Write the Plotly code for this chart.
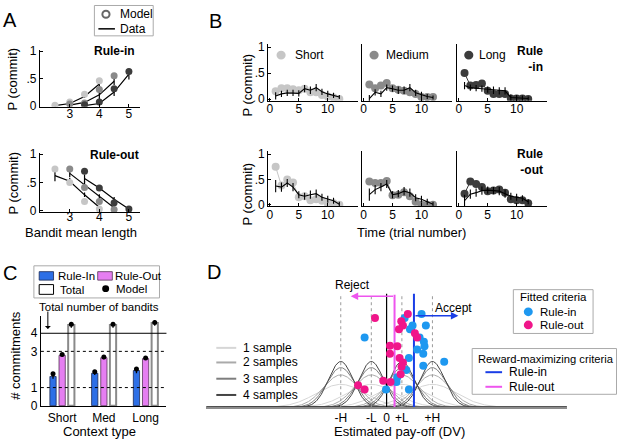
import numpy as np
import plotly.graph_objects as go

W, H = 617, 448
FONT = "Liberation Sans, Arial, Helvetica, sans-serif"

# ------------------------------------------------------------------ data
# Panel A : P(commit) vs bandit mean length (short / medium / long contexts)
A_X_SHORT = [2.5, 3.0, 3.5, 4.0]
A_X_MEDIUM = [3.0, 3.5, 4.0, 4.5]
A_X_LONG = [3.5, 4.0, 4.5, 5.0]
A_TICKS = [3, 4, 5]

A_IN_MODEL_SHORT = [0.01, 0.07, 0.21, 0.46]
A_IN_MODEL_MEDIUM = [0.03, 0.05, 0.30, 0.55]
A_IN_MODEL_LONG = [0.02, 0.07, 0.31, 0.63]
A_IN_DATA_SHORT = [0.00, 0.04, 0.17, 0.40]
A_IN_DATA_MEDIUM = [0.01, 0.06, 0.20, 0.45]
A_IN_DATA_LONG = [0.00, 0.04, 0.25, 0.58]
A_IN_ERR_SHORT = [0.01, 0.02, 0.03, 0.08]
A_IN_ERR_MEDIUM = [0.01, 0.02, 0.14, 0.07]
A_IN_ERR_LONG = [0.01, 0.03, 0.07, 0.10]

A_OUT_MODEL_SHORT = [0.74, 0.50, 0.16, 0.03]
A_OUT_MODEL_MEDIUM = [0.74, 0.41, 0.16, 0.02]
A_OUT_MODEL_LONG = [0.70, 0.40, 0.14, 0.03]
A_OUT_DATA_SHORT = [0.62, 0.52, 0.28, 0.06]
A_OUT_DATA_MEDIUM = [0.66, 0.46, 0.25, 0.05]
A_OUT_DATA_LONG = [0.57, 0.40, 0.20, 0.03]
A_OUT_ERR_SHORT = [0.10, 0.06, 0.04, 0.02]
A_OUT_ERR_MEDIUM = [0.07, 0.06, 0.04, 0.02]
A_OUT_ERR_LONG = [0.07, 0.05, 0.04, 0.02]

# Panel B : P(commit) vs time (trial number)
B_TRIALS = [1, 2, 3, 4, 5, 6, 7, 8, 9, 10, 11, 12]
B_TICKS = [0, 5, 10]
B_IN_MODEL_SHORT = [0.15, 0.21, 0.21, 0.19, 0.17, 0.20, 0.13, 0.13, 0.08, 0.05, 0.03, 0.00]
B_IN_MODEL_MEDIUM = [0.28, 0.21, 0.26, 0.31, 0.21, 0.18, 0.16, 0.13, 0.10, 0.04, 0.04, 0.04]
B_IN_MODEL_LONG = [0.50, 0.26, 0.27, 0.30, 0.16, 0.10, 0.10, 0.10, 0.01, 0.01, 0.01, 0.00]
B_IN_DATA_SHORT = [0.06, 0.10, 0.12, 0.12, 0.11, 0.20, 0.17, 0.22, 0.14, 0.10, 0.07, 0.04]
B_IN_DATA_MEDIUM = [0.01, 0.13, 0.10, 0.22, 0.20, 0.17, 0.17, 0.22, 0.12, 0.08, 0.05, 0.03]
B_IN_DATA_LONG = [0.26, 0.22, 0.21, 0.20, 0.18, 0.17, 0.16, 0.16, 0.03, 0.02, 0.02, 0.01]
B_IN_ERR = [0.07, 0.06, 0.06, 0.06, 0.06, 0.07, 0.07, 0.07, 0.06, 0.06, 0.05, 0.04]

B_OUT_MODEL_SHORT = [0.75, 0.38, 0.50, 0.44, 0.15, 0.17, 0.09, 0.11, 0.08, 0.03, 0.03, 0.00]
B_OUT_MODEL_MEDIUM = [0.46, 0.43, 0.43, 0.47, 0.19, 0.20, 0.25, 0.17, 0.06, 0.00, 0.00, 0.00]
B_OUT_MODEL_LONG = [0.22, 0.46, 0.41, 0.35, 0.27, 0.28, 0.30, 0.24, 0.11, 0.09, 0.09, 0.03]
B_OUT_DATA_SHORT = [0.37, 0.35, 0.43, 0.35, 0.20, 0.17, 0.20, 0.22, 0.15, 0.11, 0.08, 0.01]
B_OUT_DATA_MEDIUM = [0.20, 0.30, 0.35, 0.41, 0.20, 0.22, 0.27, 0.24, 0.14, 0.11, 0.06, 0.01]
B_OUT_DATA_LONG = [0.08, 0.21, 0.24, 0.28, 0.29, 0.28, 0.27, 0.22, 0.17, 0.15, 0.13, 0.06]
B_OUT_ERR = [0.12, 0.09, 0.08, 0.08, 0.07, 0.07, 0.08, 0.08, 0.07, 0.07, 0.06, 0.05]

LENGTH_NAMES = ["Short", "Medium", "Long"]

# Panel C : number of commitments per context
C_CATEGORIES = ["Short", "Med", "Long"]
C_RULE_IN = [1.61, 1.79, 1.94]
C_RULE_OUT = [2.78, 2.65, 2.60]
C_TOTAL = [4.45, 4.45, 4.57]
C_RULE_IN_ERR = [0.12, 0.10, 0.15]
C_RULE_OUT_ERR = [0.08, 0.08, 0.08]
C_TOTAL_ERR = [0.14, 0.14, 0.16]
C_MODEL_IN = [1.76, 1.88, 2.03]
C_MODEL_OUT = [2.83, 2.69, 2.63]
C_MODEL_TOTAL = [4.50, 4.50, 4.60]
C_REF_SOLID = [4]
C_REF_DASHED = [3, 1]
C_YTICKS = [0, 1, 3, 4]

# Panel D : estimated pay-off schematic (H = 3, L = 1 units)
D_CENTERS = [-3, -1, 1, 3]
D_TICKVALS = [-3, -1, 0, 1, 3]
D_TICKTEXT = ["-H", "-L", "0", "+L", "+H"]
D_N_SAMPLES = [1, 2, 3, 4]
D_SAMPLE_SD1 = 1.6
D_PEAK_4 = 47.0
D_GUIDE_TOP = 115.5
D_CRIT_IN = 1.79
D_CRIT_OUT = 0.52
D_IN_X = [2.29, 1.18, 1.70, 2.57, 1.53, -1.44, 2.16, 2.44, 2.48, 2.00, 2.40, 1.46,
          3.77, 2.40, 1.29, 0.70, 0.65, 1.46, -0.04]
D_IN_Y = [95.7, 91.7, 84.0, 84.0, 80.0, 71.7, 71.7, 67.3, 62.7, 59.3, 55.0, 50.7,
          46.7, 42.7, 38.3, 30.7, 26.0, 18.3, 18.3]
D_OUT_X = [-0.76, 1.39, 0.96, 1.07, 0.81, 1.85, 2.00, 0.22, 0.70, 0.22, 0.85, 1.07,
           0.98, 0.92, -0.22, 0.26, -1.87, -1.44]
D_OUT_Y = [91.7, 95.7, 88.3, 84.0, 80.0, 76.0, 71.7, 63.3, 62.7, 55.0, 50.7, 46.0,
           41.7, 34.0, 27.3, 26.0, 22.7, 18.3]

# ------------------------------------------------------------------ style
GREYS = ["#c6c6c6", "#8a8a8a", "#3c3c3c"]
SAMPLE_GREYS = ["#d6d6d6", "#aaaaaa", "#7e7e7e", "#444444"]
BLUE_BAR = "#2d6fe6"
MAG_BAR = "#e57ef1"
BLUE_PT = "#1e98f0"
MAG_PT = "#f0168a"
BLUE_LINE = "#1a3ee6"
MAG_LINE = "#ee55ee"


def PX(x):
    return x / W


def PY(y):
    return 1 - y / H


def xdom(a, b):
    return [a / W, b / W]


def ydom(top, bot):
    return [1 - bot / H, 1 - top / H]


fig = go.Figure()
layout_axes = {}
BASE = dict(showline=True, linecolor="black", linewidth=1, showgrid=False, zeroline=False,
            ticks="inside", ticklen=3, tickcolor="black", mirror=False, fixedrange=True,
            tickfont=dict(size=12, family=FONT, color="black"))


def add_axes(i, xd, yd, xr, yr, xkw=None, ykw=None):
    s = "" if i == 1 else str(i)
    xa = dict(BASE)
    xa.update(domain=xd, range=xr, anchor="y" + s)
    xa.update(xkw or {})
    ya = dict(BASE)
    ya.update(domain=yd, range=yr, anchor="x" + s)
    ya.update(ykw or {})
    layout_axes["xaxis" + s] = xa
    layout_axes["yaxis" + s] = ya
    return "x" + s, "y" + s


P_TICKS = dict(tickvals=[0, 0.5, 1], ticktext=["0", ".5", "1"])

# ---------------- Panel A
axA = [
    add_axes(1, xdom(38, 138), ydom(46, 104.5), [1.99, 5.36], [-0.018, 1.027],
             dict(tickvals=A_TICKS, ticklabelstandoff=-4), P_TICKS),
    add_axes(2, xdom(38, 138), ydom(152, 213), [1.99, 5.36], [-0.03, 1.023],
             dict(tickvals=A_TICKS, ticklabelstandoff=-7), P_TICKS),
]
A_XS = [A_X_SHORT, A_X_MEDIUM, A_X_LONG]
A_SETS = [
    ([A_IN_MODEL_SHORT, A_IN_MODEL_MEDIUM, A_IN_MODEL_LONG],
     [A_IN_DATA_SHORT, A_IN_DATA_MEDIUM, A_IN_DATA_LONG],
     [A_IN_ERR_SHORT, A_IN_ERR_MEDIUM, A_IN_ERR_LONG]),
    ([A_OUT_MODEL_SHORT, A_OUT_MODEL_MEDIUM, A_OUT_MODEL_LONG],
     [A_OUT_DATA_SHORT, A_OUT_DATA_MEDIUM, A_OUT_DATA_LONG],
     [A_OUT_ERR_SHORT, A_OUT_ERR_MEDIUM, A_OUT_ERR_LONG]),
]
for (xa, ya), (models, datas, errs) in zip(axA, A_SETS):
    for k in range(3):
        fig.add_trace(go.Scatter(x=A_XS[k], y=datas[k], mode="lines", xaxis=xa, yaxis=ya,
                                 line=dict(color="black", width=1.2),
                                 error_y=dict(type="data", array=errs[k], color="black",
                                              thickness=1.2, width=0)))
    for k in range(3):
        fig.add_trace(go.Scatter(x=A_XS[k], y=models[k], mode="markers", xaxis=xa, yaxis=ya,
                                 marker=dict(color=GREYS[k], size=7)))

# ---------------- Panel B
B_XD = [xdom(267, 357), xdom(361, 451), xdom(456.5, 546.5)]
B_ROWS = [
    (ydom(40.5, 98.5), [-0.034, 1.052],
     [B_IN_MODEL_SHORT, B_IN_MODEL_MEDIUM, B_IN_MODEL_LONG],
     [B_IN_DATA_SHORT, B_IN_DATA_MEDIUM, B_IN_DATA_LONG], B_IN_ERR),
    (ydom(150.5, 207), [-0.033, 1.054],
     [B_OUT_MODEL_SHORT, B_OUT_MODEL_MEDIUM, B_OUT_MODEL_LONG],
     [B_OUT_DATA_SHORT, B_OUT_DATA_MEDIUM, B_OUT_DATA_LONG], B_OUT_ERR),
]
idx = 3
for r, (yd, yr, models, datas, err) in enumerate(B_ROWS):
    for c in range(3):
        ykw = dict(P_TICKS) if c == 0 else dict(showticklabels=False, ticks="")
        xa, ya = add_axes(idx, B_XD[c], yd, [-0.3, 15.2], yr,
                          dict(tickvals=B_TICKS, ticklabelstandoff=-3), ykw)
        idx += 1
        fig.add_trace(go.Scatter(x=B_TRIALS, y=models[c], mode="lines+markers", xaxis=xa, yaxis=ya,
                                 line=dict(color=GREYS[c], width=1),
                                 marker=dict(color=GREYS[c], size=8)))
        fig.add_trace(go.Scatter(x=B_TRIALS, y=datas[c], mode="lines", xaxis=xa, yaxis=ya,
                                 line=dict(color="black", width=1.1),
                                 error_y=dict(type="data", array=err, color="black",
                                              thickness=1.1, width=0)))

# ---------------- Panel C
xc, yc = add_axes(9, xdom(39, 165), ydom(320, 412), [-0.51, 2.5], [-0.016, 4.93],
                  dict(tickvals=list(range(len(C_CATEGORIES))), ticktext=C_CATEGORIES, ticks="",
                       ticklabelstandoff=1),
                  dict(tickvals=C_YTICKS, ticks=""))
C_POS = list(range(len(C_CATEGORIES)))
BAR_STEP = 0.219
BAR_W = 0.15
for j, (vals, errs, fill, lcol, lw) in enumerate([
        (C_RULE_IN, C_RULE_IN_ERR, BLUE_BAR, "#1b2a55", 0.8),
        (C_RULE_OUT, C_RULE_OUT_ERR, MAG_BAR, "#553355", 0.8),
        (C_TOTAL, C_TOTAL_ERR, "white", "#8a8a8a", 2.0)]):
    shift = (j - 1) * BAR_STEP
    fig.add_trace(go.Bar(x=C_POS, y=vals, xaxis=xc, yaxis=yc, width=BAR_W,
                         offset=shift - BAR_W / 2,
                         marker=dict(color=fill, line=dict(color=lcol, width=lw)),
                         error_y=dict(type="data", array=errs, color="black",
                                      thickness=1.3, width=0)))
for j, mvals in enumerate([C_MODEL_IN, C_MODEL_OUT, C_MODEL_TOTAL]):
    shift = (j - 1) * BAR_STEP
    fig.add_trace(go.Scatter(x=[p + shift for p in C_POS], y=mvals, mode="markers",
                             xaxis=xc, yaxis=yc, marker=dict(color="black", size=5)))

# ---------------- Panel D
xdd, ydd = add_axes(10, xdom(205, 566.7), ydom(280, 413.3), [-11.8, 11.8], [0, 133.3],
                    dict(tickvals=D_TICKVALS, ticktext=D_TICKTEXT, ticks="", linecolor="#8c8c8c",
                         linewidth=2, ticklabelstandoff=-2,
                         tickfont=dict(size=12, family=FONT, color="black")),
                    dict(visible=False))
xs = np.linspace(-11.8, 11.8, 700)
for n, col in zip(D_N_SAMPLES, SAMPLE_GREYS):
    sd = D_SAMPLE_SD1 / np.sqrt(n)
    peak = D_PEAK_4 * np.sqrt(n / 4.0)
    for c in D_CENTERS:
        fig.add_trace(go.Scatter(x=xs, y=peak * np.exp(-(xs - c) ** 2 / (2 * sd ** 2)),
                                 mode="lines", xaxis=xdd, yaxis=ydd,
                                 line=dict(color=col, width=1)))
for c in D_CENTERS:
    fig.add_trace(go.Scatter(x=[c, c], y=[0, D_GUIDE_TOP], mode="lines", xaxis=xdd, yaxis=ydd,
                             line=dict(color="#9a9a9a", width=1, dash="3px,3px")))
fig.add_trace(go.Scatter(x=[0, 0], y=[0, D_GUIDE_TOP + 1], mode="lines", xaxis=xdd, yaxis=ydd,
                         line=dict(color="black", width=1.2)))
fig.add_trace(go.Scatter(x=[D_CRIT_OUT, D_CRIT_OUT], y=[0, D_GUIDE_TOP], mode="lines",
                         xaxis=xdd, yaxis=ydd, line=dict(color=MAG_LINE, width=2)))
fig.add_trace(go.Scatter(x=[D_CRIT_IN, D_CRIT_IN], y=[0, D_GUIDE_TOP + 1], mode="lines",
                         xaxis=xdd, yaxis=ydd, line=dict(color=BLUE_LINE, width=2)))
fig.add_trace(go.Scatter(x=D_IN_X, y=D_IN_Y, mode="markers", xaxis=xdd, yaxis=ydd,
                         marker=dict(color=BLUE_PT, size=8)))
fig.add_trace(go.Scatter(x=D_OUT_X, y=D_OUT_Y, mode="markers", xaxis=xdd, yaxis=ydd,
                         marker=dict(color=MAG_PT, size=8)))

# ------------------------------------------------------------------ annotations
ann = []


def txt(x, y, s, size=12, xanchor="center", bold=False, angle=0, align="left", yanchor="middle"):
    ann.append(dict(x=PX(x), y=PY(y), xref="paper", yref="paper", text=("<b>%s</b>" % s) if bold else s,
                    showarrow=False, xanchor=xanchor, yanchor=yanchor, textangle=angle, align=align,
                    font=dict(size=size, family=FONT, color="black")))


for letter, (lx, ly) in zip("ABCD", [(8.5, 15), (214, 16), (8.5, 275), (212.5, 274)]):
    txt(lx, ly, letter, size=20)

# A
txt(113, 47, "Rule-in", bold=True)
txt(113, 154, "Rule-out", bold=True)
txt(11.5, 76, "P (commit)", size=13, angle=-90)
txt(11.5, 183, "P (commit)", size=13, angle=-90)
txt(79, 234, "Bandit mean length", size=13)
txt(116.5, 9.5, "Model", xanchor="left")
txt(116.5, 24.5, "Data", xanchor="left")
# B
txt(246.5, 82, "P (commit)", size=13, angle=-90)
txt(246.5, 194, "P (commit)", size=13, angle=-90)
txt(410.5, 234, "Time (trial number)", size=13)
txt(545, 55, "Rule<br>-in", bold=True, xanchor="right", align="right")
txt(545, 161, "Rule<br>-out", bold=True, xanchor="right", align="right")
for name, lx in zip(LENGTH_NAMES, [291.5, 383, 476.5]):
    txt(lx, 51.5, name, xanchor="left")
# C
txt(13.5, 360, "# commitments", size=13, angle=-90)
txt(98, 448, "Context type", size=13, yanchor="bottom")
txt(97, 310, "Total number of bandits", size=11.5)
txt(54, 278.5, "Rule-In", size=11.5, xanchor="left")
txt(111.5, 278.5, "Rule-Out", size=11.5, xanchor="left")
txt(56.5, 292.5, "Total", size=11.5, xanchor="left")
txt(112.5, 291.5, "Model", size=11.5, xanchor="left")
ann.append(dict(x=PX(46), y=PY(333), xref="paper", yref="paper", ax=0, ay=-19, text="",
                showarrow=True, arrowhead=1, arrowsize=1, arrowwidth=1, arrowcolor="black"))
# D
txt(352, 288, "Reject", size=12)
txt(453, 311.5, "Accept", size=12)
txt(398.7, 448, "Estimated pay-off (DV)", size=13, yanchor="bottom")
for k, ly in enumerate([352.3, 367.3, 384, 400.7]):
    txt(240, ly, "%d sample%s" % (D_N_SAMPLES[k], "" if D_N_SAMPLES[k] == 1 else "s"), size=12,
        xanchor="left")
txt(553, 300.2, "Fitted criteria", size=11.5)
txt(538, 315.2, "Rule-in", size=11.5, xanchor="left")
txt(538, 328.8, "Rule-out", size=11.5, xanchor="left")
txt(475.5, 364, "Reward-maximizing criteria", size=11.2, xanchor="left")
txt(506.5, 377.3, "Rule-in", size=12, xanchor="left")
txt(506.5, 392.3, "Rule-out", size=12, xanchor="left")
ann.append(dict(x=-2.35, y=114, ax=D_CRIT_OUT, ay=114, xref=xdd, yref=ydd, axref=xdd, ayref=ydd,
                text="", showarrow=True, arrowhead=2, arrowsize=1, arrowwidth=1.5, arrowcolor=MAG_LINE))
ann.append(dict(x=4.7, y=94, ax=D_CRIT_IN, ay=94, xref=xdd, yref=ydd, axref=xdd, ayref=ydd,
                text="", showarrow=True, arrowhead=2, arrowsize=1, arrowwidth=1.5, arrowcolor=BLUE_LINE))

# ------------------------------------------------------------------ legend shapes
shapes = []


def rect(x0, y0, x1, y1, line="#aaaaaa", fill="rgba(0,0,0,0)", lw=1):
    shapes.append(dict(type="rect", xref="paper", yref="paper", x0=PX(x0), x1=PX(x1),
                       y0=PY(y1), y1=PY(y0), line=dict(color=line, width=lw), fillcolor=fill))


def circ(cx, cy, r, fill, line=None, lw=0):
    shapes.append(dict(type="circle", xref="paper", yref="paper", x0=PX(cx - r), x1=PX(cx + r),
                       y0=PY(cy + r), y1=PY(cy - r), fillcolor=fill,
                       line=dict(color=line or fill, width=lw)))


def hline(x0, x1, y, col, lw):
    shapes.append(dict(type="line", xref="paper", yref="paper", x0=PX(x0), x1=PX(x1),
                       y0=PY(y), y1=PY(y), line=dict(color=col, width=lw)))


# A legend
rect(92.7, 0.5, 151.7, 31.7)
circ(104.3, 9.5, 3.6, "rgba(0,0,0,0)", line="#666666", lw=2)
hline(96.7, 113.3, 24.5, "black", 1.5)
# B legend markers
for col, cx in zip(GREYS, [280, 373.3, 468.3]):
    circ(cx, 51.5, 4.6, col)
# C legend
rect(32, 268, 158, 301)
rect(37.3, 274, 51.7, 282.7, line="#1b2a55", fill=BLUE_BAR, lw=0.8)
rect(96, 274, 110.7, 282.7, line="#553355", fill=MAG_BAR, lw=0.8)
rect(37.3, 287.3, 51.7, 297.3, line="black", fill="white", lw=1)
circ(104, 291.5, 3.5, "black")
# C reference lines
for v in C_REF_SOLID:
    shapes.append(dict(type="line", xref=xc + " domain", yref=yc, x0=0, x1=1, y0=v, y1=v,
                       line=dict(color="black", width=1), layer="above"))
for v in C_REF_DASHED:
    shapes.append(dict(type="line", xref=xc + " domain", yref=yc, x0=0, x1=1, y0=v, y1=v,
                       line=dict(color="black", width=1, dash="3px,3px"), layer="above"))
# D legends
rect(513, 292.5, 593, 337.5)
circ(528, 315.2, 4.5, BLUE_PT)
circ(528, 328.8, 4.5, MAG_PT)
rect(471.7, 353, 616.5, 400)
hline(485, 501.7, 377.3, BLUE_LINE, 2)
hline(485, 501.7, 392.3, MAG_LINE, 2)
for col, ly in zip(SAMPLE_GREYS, [352.3, 367.3, 384, 400.7]):
    hline(215, 235, ly, col, 2)

fig.update_layout(width=W, height=H, margin=dict(l=0, r=0, t=0, b=0), showlegend=False,
                  paper_bgcolor="white", plot_bgcolor="white", barmode="overlay",
                  font=dict(family=FONT, size=12, color="black"),
                  annotations=ann, shapes=shapes, **layout_axes)

fig.write_html("out.html", config={"displayModeBar": False},
               post_script="document.body.style.margin='0px';")
